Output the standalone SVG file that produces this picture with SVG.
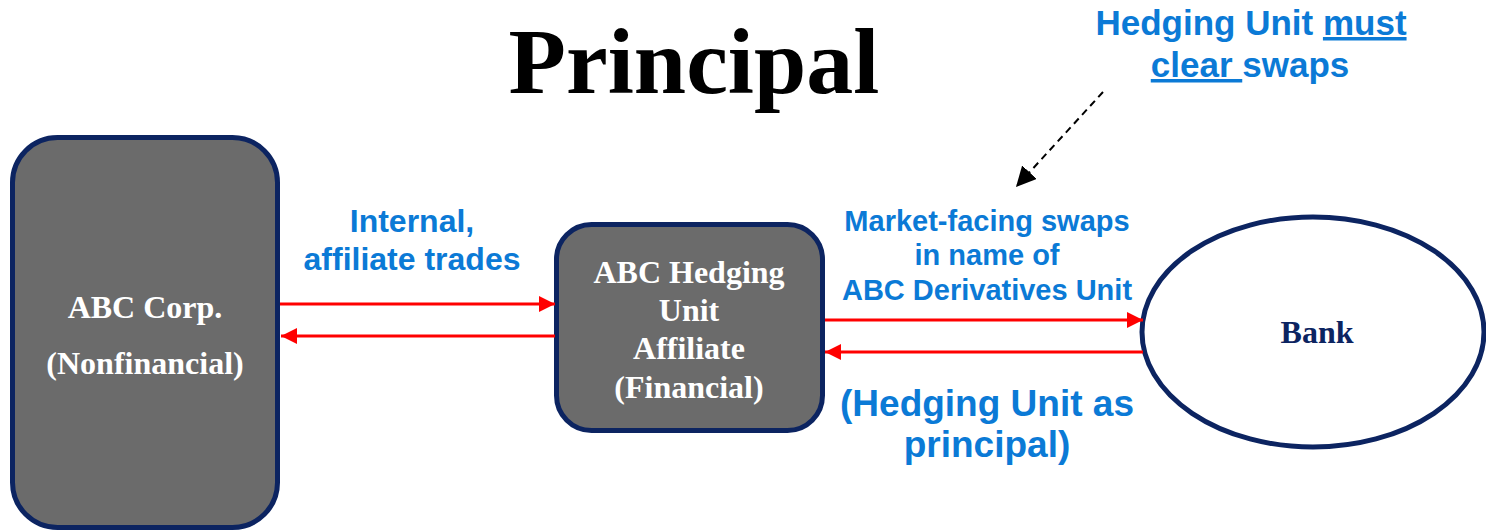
<svg xmlns="http://www.w3.org/2000/svg" width="1486" height="530" viewBox="0 0 1486 530">
<style>
.node{fill:#6b6b6b;stroke:#0c2461;stroke-width:5}
.ntxt{font-family:"Liberation Serif","Times New Roman",serif;font-weight:bold;font-size:32px;fill:#ffffff;text-anchor:middle}
.lbl{font-family:"Liberation Sans",Arial,sans-serif;font-weight:bold;fill:#0b7ad6;text-anchor:middle}
.red{stroke:#ff0000;stroke-width:3;fill:none}
</style>
<defs>
<marker id="ar" markerUnits="userSpaceOnUse" markerWidth="18" markerHeight="18" refX="16" refY="8" orient="auto">
<path d="M0,0 L16,8 L0,16 Z" fill="#ff0000"/>
</marker>
<marker id="ab" markerUnits="userSpaceOnUse" markerWidth="24" markerHeight="24" refX="20" refY="10" orient="auto">
<path d="M0,0 L20,10 L0,20 Z" fill="#000000"/>
</marker>
</defs>
<rect width="1486" height="530" fill="#ffffff"/>
<text x="694" y="93" font-family="'Liberation Serif','Times New Roman',serif" font-weight="bold" font-size="94" text-anchor="middle" fill="#000000">Principal</text>
<g id="note">
<text class="lbl" font-size="35"><tspan x="1251" y="35">Hedging Unit <tspan text-decoration="underline">must</tspan></tspan><tspan x="1250" y="77"><tspan text-decoration="underline">clear </tspan>swaps</tspan></text>
</g>
<g id="abc-corp">
<rect class="node" x="12.5" y="137.5" width="265" height="390" rx="45"/>
<text class="ntxt" x="145" y="318">ABC Corp.</text>
<text class="ntxt" x="145" y="374">(Nonfinancial)</text>
</g>
<g id="hedging-unit">
<rect class="node" x="556.5" y="224.5" width="266" height="206" rx="35"/>
<text class="ntxt" x="689" y="283">ABC Hedging</text>
<text class="ntxt" x="689" y="321">Unit</text>
<text class="ntxt" x="689" y="359">Affiliate</text>
<text class="ntxt" x="689" y="398">(Financial)</text>
</g>
<g id="bank">
<ellipse cx="1313" cy="332" rx="171" ry="115" fill="#ffffff" stroke="#0c2461" stroke-width="5"/>
<text x="1317" y="343" font-family="'Liberation Serif','Times New Roman',serif" font-weight="bold" font-size="32" text-anchor="middle" fill="#0c2461">Bank</text>
</g>
<g id="connectors">
<line class="red" x1="280" y1="304" x2="555" y2="304" marker-end="url(#ar)"/>
<line class="red" x1="555" y1="336" x2="281" y2="336" marker-end="url(#ar)"/>
<line class="red" x1="825" y1="320" x2="1143" y2="320" marker-end="url(#ar)"/>
<line class="red" x1="1143" y1="352" x2="825" y2="352" marker-end="url(#ar)"/>
<line x1="1103" y1="92" x2="1016" y2="187" stroke="#000000" stroke-width="2" stroke-dasharray="7,5" marker-end="url(#ab)"/>
</g>
<g id="labels">
<text class="lbl" font-size="32"><tspan x="412" y="232">Internal,</tspan><tspan x="412" y="270">affiliate trades</tspan></text>
<text class="lbl" font-size="29"><tspan x="987" y="231">Market-facing swaps</tspan><tspan x="987" y="265">in name of</tspan><tspan x="987" y="300">ABC Derivatives Unit</tspan></text>
<text class="lbl" font-size="37"><tspan x="987" y="416">(Hedging Unit as</tspan><tspan x="987" y="457">principal)</tspan></text>
</g>
</svg>
